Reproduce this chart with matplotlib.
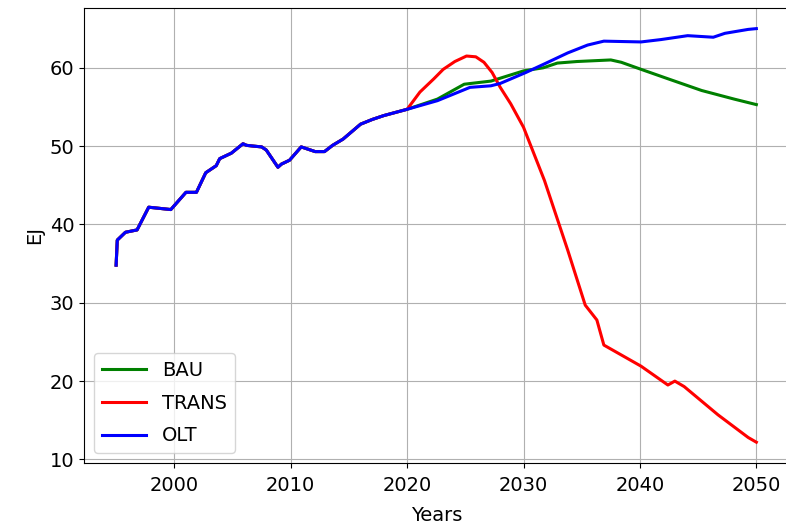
import matplotlib.pyplot as plt
import numpy as np

# historical primary energy, shared by all scenarios (EJ)
hist_years = [1995.0, 1995.1, 1995.8, 1996.8, 1997.8, 1999.7, 2001.0, 2001.9,
              2002.7, 2003.6, 2003.9, 2004.9, 2005.9, 2006.2, 2006.8, 2007.5,
              2007.9, 2008.9, 2009.2, 2009.9, 2010.9, 2012.1, 2012.9, 2013.6,
              2014.5, 2016.0, 2017.0, 2018.0, 2019.0, 2020.0]
hist_ej = [34.8, 38.0, 39.0, 39.3, 42.2, 41.9, 44.1, 44.1,
           46.6, 47.5, 48.4, 49.1, 50.3, 50.1, 50.0, 49.9,
           49.5, 47.3, 47.7, 48.2, 49.9, 49.3, 49.3, 50.1,
           50.9, 52.8, 53.4, 53.9, 54.3, 54.7]

bau_years = [2022.6, 2024.9, 2027.2, 2030.0, 2031.7, 2032.9, 2034.6, 2037.5,
             2038.4, 2040.1, 2042.4, 2045.3, 2048.1, 2050.0]
bau_ej = [56.0, 57.9, 58.3, 59.6, 60.0, 60.6, 60.8, 61.0,
          60.7, 59.8, 58.6, 57.1, 56.0, 55.3]

trans_years = [2021.1, 2022.3, 2023.1, 2024.1, 2025.1, 2025.9, 2026.6, 2027.3,
               2028.0, 2028.9, 2030.0, 2031.8, 2033.8, 2035.3, 2036.3, 2036.9,
               2040.1, 2042.4, 2043.0, 2043.8, 2046.7, 2049.3, 2050.0]
trans_ej = [56.9, 58.6, 59.8, 60.8, 61.5, 61.4, 60.7, 59.4,
            57.5, 55.4, 52.4, 45.6, 36.7, 29.7, 27.8, 24.6,
            21.9, 19.5, 20.0, 19.3, 15.7, 12.8, 12.2]

olt_years = [2022.6, 2025.4, 2027.2, 2028.0, 2030.2, 2031.8, 2033.8, 2035.5,
             2036.9, 2040.1, 2041.8, 2044.1, 2046.3, 2047.3, 2049.3, 2050.0]
olt_ej = [55.8, 57.5, 57.7, 58.0, 59.4, 60.5, 61.9, 62.9,
          63.4, 63.3, 63.6, 64.1, 63.9, 64.4, 64.9, 65.0]

scenarios = [
    ("BAU", bau_years, bau_ej, "green"),
    ("TRANS", trans_years, trans_ej, "red"),
    ("OLT", olt_years, olt_ej, "blue"),
]

fig = plt.figure(figsize=(7.86, 5.29), dpi=100)
ax = fig.add_axes([0.107, 0.125, 0.896, 0.860])

for name, yrs, vals, color in scenarios:
    x = np.concatenate([hist_years, yrs])
    y = np.concatenate([hist_ej, vals])
    ax.plot(x, y, color=color, linewidth=2.2, label=name)

ax.set_xlabel("Years", fontsize=14, labelpad=8)
ax.set_ylabel("EJ", fontsize=14)
ax.tick_params(labelsize=14)
ax.tick_params(axis="x", pad=6)
ax.set_yticks([10, 20, 30, 40, 50, 60])
ax.grid(True)
ax.legend(loc="lower left", fontsize=14, handlelength=2.3, labelspacing=0.7)

fig.savefig("out.png", dpi=100)
